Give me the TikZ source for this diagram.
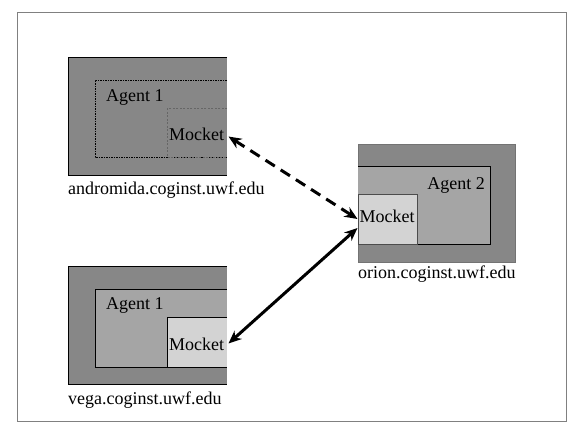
\documentclass[tikz,border=0pt]{standalone}
\usepackage{fontspec}
\setmainfont{Liberation Serif}
\usetikzlibrary{arrows.meta}
\definecolor{hostgray}{HTML}{878787}
\definecolor{agentgray}{HTML}{A5A5A5}
\definecolor{mockgray}{HTML}{D3D3D3}
\begin{document}
\begin{tikzpicture}[x=1pt,y=-1pt,
  box/.style={inner sep=0pt,outer sep=0pt,anchor=north west},
  lbl/.style={inner sep=0pt,font=\fontsize{18}{20}\selectfont},
  link/.style={line width=3pt,{Stealth[length=13pt,width=11pt]}-{Stealth[length=13pt,width=11pt]}},
  thinb/.style={line width=0.8pt}]
\useasboundingbox (0,0) rectangle (581,430);
\node[box,draw=gray,line width=0.8pt,minimum width=549pt,minimum height=409pt] (frame) at (17,12) {};
% andromida
\node[box,fill=hostgray,minimum width=159pt,minimum height=118pt] (ah) at (68,57) {};
\draw[thinb] (ah.north east) -- (ah.north west) -- (ah.south west) -- (ah.south east);
\node[box,minimum width=132pt,minimum height=77pt] (aa) at (95,80.5) {};
\draw[line width=0.7pt,dash pattern=on 2pt off 1pt on 1pt off 1pt] (aa.north east) -- (aa.north west) -- (aa.south west) -- (aa.south east);
\node[box,minimum width=59.5pt,minimum height=49pt] (am) at (167.5,108.5) {};
\draw[line width=0.7pt,draw=black!60,dash pattern=on 2pt off 1.5pt] (am.north east) -- (am.north west) -- (am.south west) -- (am.south east);
\node[lbl,anchor=base west] (aat) at (106,102) {Agent 1};
\node[lbl,anchor=base west] (amt) at (169,141) {Mocket};
\node[lbl,anchor=base west] (ahl) at (68,195) {andromida.coginst.uwf.edu};
% vega
\node[box,fill=hostgray,minimum width=159pt,minimum height=118pt] (vh) at (68,266) {};
\draw[thinb] (vh.north east) -- (vh.north west) -- (vh.south west) -- (vh.south east);
\node[box,fill=agentgray,minimum width=132pt,minimum height=77.5pt] (va) at (95,289.5) {};
\draw[thinb] (va.north east) -- (va.north west) -- (va.south west) -- (va.south east);
\node[box,fill=mockgray,minimum width=59.5pt,minimum height=50pt] (vm) at (167.5,317) {};
\draw[thinb] (vm.north east) -- (vm.north west) -- (vm.south west) -- (vm.south east);
\node[lbl,anchor=base west] (vat) at (106,310) {Agent 1};
\node[lbl,anchor=base west] (vmt) at (169,350) {Mocket};
\node[lbl,anchor=base west] (vhl) at (68,404) {vega.coginst.uwf.edu};
% orion
\node[box,fill=hostgray,draw=black!55,line width=0.6pt,minimum width=157.5pt,minimum height=118pt] (oh) at (358,144) {};
\node[box,fill=agentgray,minimum width=132pt,minimum height=77.5pt] (oa) at (358,166.5) {};
\draw[thinb] (oa.north west) -- (oa.north east) -- (oa.south east) -- (oa.south west);
\node[box,fill=mockgray,draw=black!70,line width=0.6pt,minimum width=59.5pt,minimum height=50pt] (om) at (358,194) {};
\node[lbl,anchor=base east] (oat) at (485,190) {Agent 2};
\node[lbl,anchor=base west] (omt) at (359.5,223) {Mocket};
\node[lbl,anchor=base west] (ohl) at (358,279) {orion.coginst.uwf.edu};
% links
\coordinate (d1) at (228.5,136.5);
\coordinate (d2) at (357.5,219);
\coordinate (s1) at (228.5,343.5);
\coordinate (s2) at (357.5,228);
\draw[link,dash pattern=on 11pt off 7pt] (d1) -- (d2);
\draw[link] (s1) -- (s2);
\end{tikzpicture}
\end{document}
